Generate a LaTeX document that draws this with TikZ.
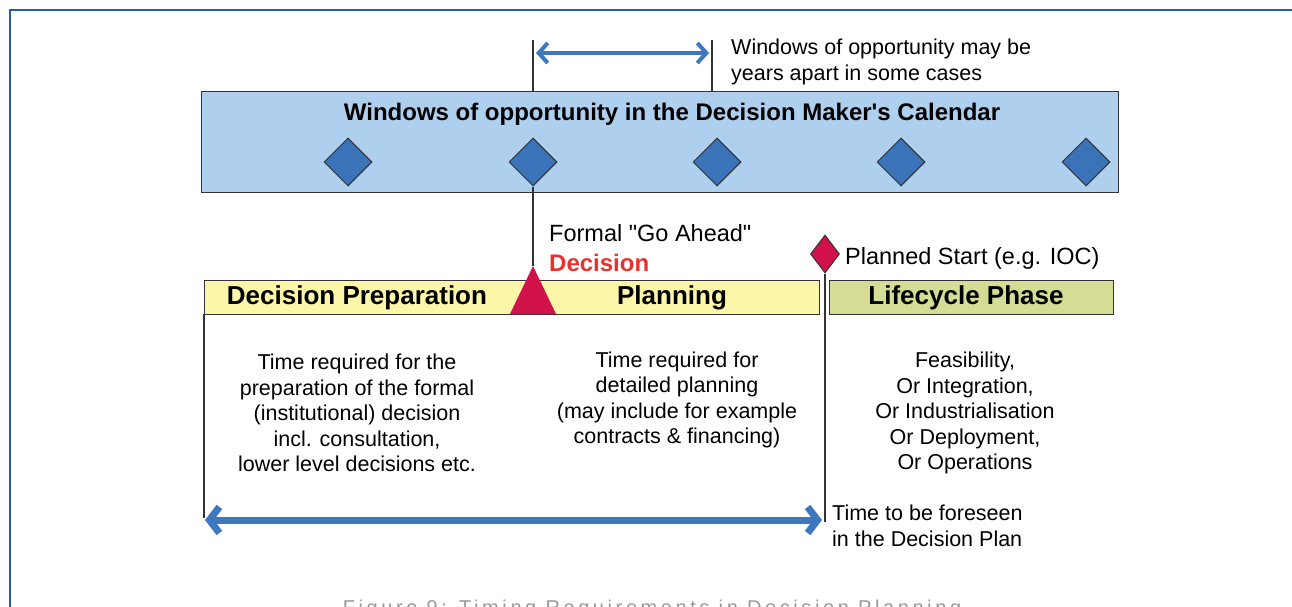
\documentclass[tikz,border=0pt]{standalone}
\usepackage{fontspec}
\setmainfont[Ligatures=TeXOff]{Liberation Sans}
\newfontfamily\capfont[LetterSpace=18]{Liberation Sans}
\usetikzlibrary{shapes.geometric,arrows.meta}
\definecolor{frameblue}{HTML}{2A5C9A}
\definecolor{bandblue}{HTML}{AECFED}
\definecolor{diablue}{HTML}{3B73B9}
\definecolor{arrblue}{HTML}{3D77BE}
\definecolor{barYellow}{HTML}{FBF6A8}
\definecolor{barGreen}{HTML}{D5DC95}
\definecolor{crimson}{HTML}{D0114A}
\definecolor{decred}{HTML}{E8322F}
\definecolor{linegray}{HTML}{333333}
\tikzset{
  txt/.style={font=\fontsize{21.5}{25.5}\selectfont, inner sep=0pt, align=center},
  bigtxt/.style={font=\fontsize{23.5}{28}\selectfont, inner sep=0pt},
  bartext/.style={font=\fontsize{26}{30}\selectfont\bfseries, inner sep=0pt},
  bluedia/.style={diamond, draw=linegray, line width=1pt, fill=diablue, minimum width=48pt, minimum height=48pt, inner sep=0pt},
  reddia/.style={diamond, draw=linegray, line width=1pt, fill=crimson, minimum width=29pt, minimum height=38pt, inner sep=0pt},
  thin/.style={draw=linegray, line width=1.4pt},
  barbox/.style={draw=linegray, line width=1.2pt},
  bigarrow/.style={arrblue, line width=#1},
}
\begin{document}
\begin{tikzpicture}[x=1pt,y=-1pt]
\useasboundingbox (0,0) rectangle (1292,607);
% frame
\draw[frameblue, line width=2pt] (10,700) -- (10,10) -- (1400,10);
% calendar band
\node[barbox, fill=bandblue, minimum width=917pt, minimum height=101pt, anchor=north west, inner sep=0pt] (band) at (201,91) {};
\node[font=\fontsize{24}{28}\selectfont\bfseries, inner sep=0pt] (bandtitle) at (672,114) {Windows of opportunity in the Decision Maker's Calendar};
\foreach \x/\n in {348/d1,533/d2,717/d3,901/d4,1086/d5}{
  \node[bluedia] (\n) at (\x,162) {};
}
% top window markers
\coordinate (t1top) at (533,40);
\coordinate (t1bot) at (533,91);
\coordinate (t2top) at (712,40);
\coordinate (t2bot) at (712,91);
\draw[thin] (t1top) -- (t1bot);
\draw[thin] (t2top) -- (t2bot);
\coordinate (a1l) at (536,53);
\coordinate (a1r) at (709,53);
\draw[bigarrow=4pt, {Straight Barb[length=9pt,width=20pt]}-{Straight Barb[length=9pt,width=20pt]}] (a1l) -- (a1r);
\node[txt, align=left, anchor=west] (wintext) at (731,62) {Windows of opportunity may be\\years apart in some cases};
% bars
\node[barbox, fill=barYellow, minimum width=615pt, minimum height=34pt, anchor=north west, inner sep=0pt] (ybar) at (204,280) {};
\node[barbox, fill=barGreen, minimum width=284pt, minimum height=34pt, anchor=north west, inner sep=0pt] (gbar) at (829,280) {};
\node[bartext] (prep) at (357,298) {Decision Preparation};
\node[bartext] (plan) at (672,298) {Planning};
\node[bartext] (life) at (966,298) {Lifecycle Phase};
% go-ahead triangle
\coordinate (tri) at (533,266);
\draw[thin] (d2.south) -- (tri);
\fill[crimson] (tri) -- (556,314) -- (510,314) -- cycle;
\node[bigtxt, anchor=west] (goahead) at (549,233) {Formal "Go Ahead"};
\node[font=\fontsize{24}{28}\selectfont\bfseries, text=decred, inner sep=0pt, anchor=west] (dec) at (549,263) {Decision};
% planned start
\node[reddia] (ps) at (825,254) {};
\coordinate (psbot) at (825,522);
\draw[thin] (ps.south) -- (psbot);
\node[bigtxt, anchor=west] (pstext) at (845,258) {Planned Start (e.g. IOC)};
% left line
\coordinate (ltop) at (204,314);
\coordinate (lbot) at (204,518);
\draw[thin] (ltop) -- (lbot);
% description texts
\node[txt] (desc1) at (357,413) {Time required for the\\preparation of the formal\\(institutional) decision\\incl. consultation,\\lower level decisions etc.};
\node[txt] (desc2) at (677,400) {Time required for\\detailed planning\\(may include for example\\contracts \& financing)};
\node[txt] (desc3) at (965,413) {Feasibility,\\Or Integration,\\Or Industrialisation\\Or Deployment,\\Or Operations};
% bottom arrow
\coordinate (b1l) at (205,520);
\coordinate (b1r) at (822,520);
\draw[bigarrow=7pt, {Straight Barb[length=10pt,width=26pt]}-{Straight Barb[length=10pt,width=26pt]}] (b1l) -- (b1r);
\node[txt, align=left, anchor=west] (foresee) at (832,526) {Time to be foreseen\\in the Decision Plan};
% caption
\node[font=\fontsize{20}{24}\selectfont\capfont, text=gray!80, inner sep=0pt, anchor=base] (cap) at (652,614) {Figure 9: Timing Requirements in Decision Planning};
\end{tikzpicture}
\end{document}
